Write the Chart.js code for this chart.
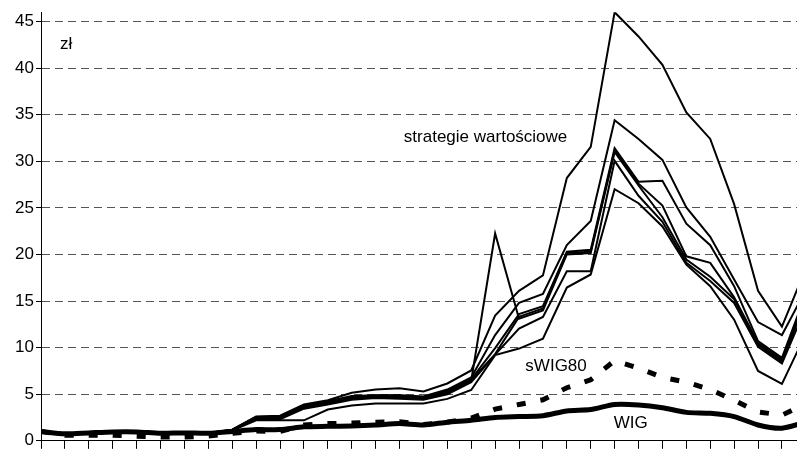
<!DOCTYPE html>
<html>
<head>
  <meta charset="utf-8">
  <title>Strategie wartościowe vs WIG i sWIG80</title>
  <script src="https://cdn.jsdelivr.net/npm/chart.js"></script>
  <style>
    html, body { margin: 0; padding: 0; background: #ffffff; }
    #wrap { width: 797px; height: 453px; }
  </style>
</head>
<body>
  <div id="wrap"><canvas id="chart"></canvas></div>

  <script>
    // periods (x axis has ticks only, no labels)
    const periods = [0, 1, 2, 3, 4, 5, 6, 7, 8, 9, 10, 11, 12, 13, 14, 15, 16,
                     17, 18, 19, 20, 21, 22, 23, 24, 25, 26, 27, 28, 29, 30, 31, 32];
    const yTicks = [0, 5, 10, 15, 20, 25, 30, 35, 40, 45];

    // value strategies (thin lines)
    const strat1 = [1.0, 0.8, 0.85, 0.95, 0.95, 0.85, 0.9, 0.85, 1.2, 2.6, 2.7, 3.9, 4.35, 5.15, 5.5, 5.65, 5.3, 6.15, 7.55, 13.45, 16.1, 17.75, 28.2, 31.55, 46, 43.4, 40.35, 35.25, 32.4, 25.4, 16.1, 12.25, 18.5];
    const strat2 = [1.0, 0.8, 0.85, 0.95, 0.95, 0.85, 0.9, 0.85, 1.2, 2.55, 2.6, 3.8, 4.25, 4.8, 4.9, 4.9, 4.75, 5.5, 6.8, 11.35, 14.8, 15.75, 21.0, 23.6, 34.4, 32.4, 30.15, 25.05, 21.9, 17.3, 12.75, 11.35, 16.2];
    const strat3 = [1.0, 0.8, 0.85, 0.95, 0.95, 0.85, 0.9, 0.85, 1.15, 2.5, 2.5, 3.7, 4.15, 4.7, 4.85, 4.85, 4.7, 5.4, 6.6, 9.95, 13.6, 14.45, 20.3, 20.5, 31.4, 27.8, 27.9, 23.3, 21.0, 16.6, 10.7, 8.9, 15.8];
    const strat4 = [1.0, 0.8, 0.85, 0.95, 0.95, 0.85, 0.9, 0.85, 1.15, 2.45, 2.45, 3.6, 4.1, 4.6, 4.75, 4.75, 4.6, 5.3, 6.5, 9.3, 13.3, 14.2, 20.15, 20.3, 31.2, 27.6, 25.25, 19.8, 19.1, 15.4, 10.5, 8.7, 15.3];
    const strat5 = [1.0, 0.8, 0.85, 0.95, 0.95, 0.85, 0.9, 0.85, 1.1, 2.4, 2.4, 3.5, 4.0, 4.5, 4.7, 4.65, 4.5, 5.15, 6.45, 22.25, 13.1, 14.0, 20.0, 20.15, 31.0, 27.4, 24.0, 19.45, 17.6, 15.2, 10.3, 8.5, 15.0];
    const strat6 = [1.0, 0.8, 0.85, 0.95, 0.95, 0.85, 0.9, 0.85, 1.1, 2.35, 2.3, 3.45, 3.9, 4.4, 4.6, 4.5, 4.4, 5.0, 6.3, 9.25, 12.05, 13.3, 18.2, 18.2, 30.05, 26.3, 23.5, 19.1, 17.15, 14.8, 10.1, 8.3, 14.3];
    const strat7 = [1.0, 0.8, 0.85, 0.95, 0.95, 0.85, 0.9, 0.85, 1.1, 2.2, 2.2, 2.2, 3.35, 3.8, 4.0, 4.0, 4.0, 4.5, 5.45, 9.2, 9.9, 10.95, 16.45, 17.85, 27.0, 25.5, 23.0, 18.9, 16.6, 13.0, 7.5, 6.1, 11.5];

    // indices (thick lines)
    const wig = [1.0, 0.75, 0.85, 0.95, 0.95, 0.8, 0.85, 0.8, 1.0, 1.2, 1.2, 1.5, 1.55, 1.6, 1.7, 1.85, 1.7, 2.0, 2.2, 2.5, 2.6, 2.7, 3.2, 3.35, 3.9, 3.85, 3.55, 3.05, 2.95, 2.6, 1.7, 1.35, 2.0];
    const swig80 = [1.0, 0.6, 0.6, 0.6, 0.5, 0.4, 0.4, 0.5, 0.8, 1.05, 1.0, 1.7, 1.85, 1.9, 2.0, 2.05, 1.75, 2.0, 2.45, 3.4, 3.9, 4.4, 5.7, 6.55, 8.6, 7.8, 6.8, 6.3, 5.5, 4.35, 3.1, 2.75, 4.0];

    // text labels inside the plot: [text, x (period), y (value), align]
    const notes = [
      ['zł', 0.8, 42.5, 'left'],
      ['strategie wartościowe', 18.6, 32.6, 'center'],
      ['sWIG80', 21.55, 8.0, 'center'],
      ['WIG', 24.67, 1.9, 'center']
    ];

    const toXY = arr => arr.map((v, i) => ({ x: periods[i], y: v }));

    const thin = (arr) => ({
      data: toXY(arr),
      borderColor: '#000',
      borderWidth: 2,
      pointRadius: 0,
      tension: 0
    });

    const notesPlugin = {
      id: 'notes',
      afterDatasetsDraw(chart) {
        const { ctx, scales } = chart;
        ctx.save();
        ctx.fillStyle = '#000';
        ctx.font = '17px "Liberation Sans", Arial, sans-serif';
        ctx.textBaseline = 'middle';
        notes.forEach(([t, x, y, align]) => {
          ctx.textAlign = align;
          ctx.fillText(t, scales.x.getPixelForValue(x), scales.y.getPixelForValue(y));
        });
        ctx.restore();
      }
    };

    new Chart(document.getElementById('chart'), {
      type: 'line',
      data: {
        datasets: [
          thin(strat1), thin(strat2), thin(strat3), thin(strat4),
          thin(strat5), thin(strat6), thin(strat7),
          {
            data: toXY(wig),
            borderColor: '#000',
            borderWidth: 5,
            pointRadius: 0,
            tension: 0.25
          },
          {
            data: toXY(swig80),
            borderColor: '#000',
            borderWidth: 5,
            borderDash: [9, 15],
            pointRadius: 0,
            tension: 0
          }
        ]
      },
      options: {
        responsive: true,
        maintainAspectRatio: false,
        animation: false,
        layout: { padding: { top: 8, right: 0, left: 0, bottom: 0 } },
        plugins: {
          legend: { display: false },
          tooltip: { enabled: false }
        },
        scales: {
          x: {
            type: 'linear',
            min: 0,
            max: 31.63,
            afterBuildTicks: (axis) => {
              axis.ticks = periods.filter(p => p <= 31).map(p => ({ value: p }));
            },
            afterFit: (axis) => { axis.height = 8; },
            ticks: { display: false },
            grid: {
              drawOnChartArea: false,
              drawTicks: true,
              tickLength: 8,
              tickColor: '#000',
              tickWidth: 1
            },
            border: { display: true, color: '#000', width: 1 }
          },
          y: {
            min: 0,
            max: 46,
            afterBuildTicks: (axis) => {
              axis.ticks = yTicks.map(v => ({ value: v }));
            },
            afterFit: (axis) => { axis.width = 41; },
            ticks: {
              color: '#000',
              padding: 2,
              font: { family: '"Liberation Sans", Arial, sans-serif', size: 17 }
            },
            grid: {
              color: '#555',
              lineWidth: 1,
              tickLength: 5,
              tickColor: '#000',
              tickBorderDash: []
            },
            border: { display: true, color: '#000', width: 1, dash: [8, 5] }
          }
        }
      },
      plugins: [notesPlugin]
    });
  </script>
</body>
</html>
